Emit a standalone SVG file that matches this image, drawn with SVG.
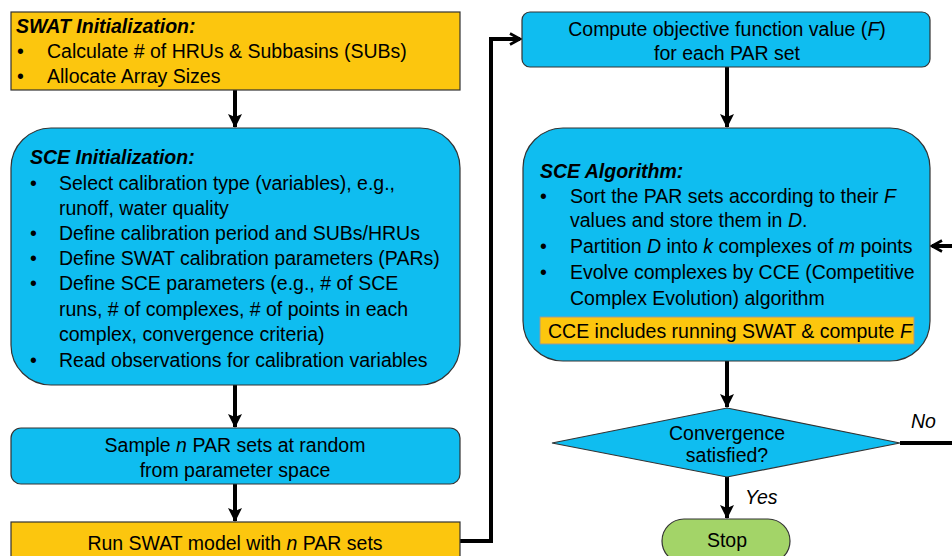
<svg xmlns="http://www.w3.org/2000/svg" width="952" height="556" viewBox="0 0 952 556">
<defs>
<style>
.y{fill:#FCC60E;stroke:#333;stroke-width:1.2}
.b{fill:#0FBDF0;stroke:#333;stroke-width:1.2}
.g{fill:#A3D468;stroke:#333;stroke-width:1.2}
text{font-family:"Liberation Sans",Arial,sans-serif;font-size:19.5px;fill:#000}
.h{font-weight:bold;font-style:italic}
.c{text-anchor:middle}
.i{font-style:italic}
.ln{fill:none;stroke:#000;stroke-width:4}
</style>
<marker id="ah" viewBox="0 0 14 14" refX="13" refY="7" markerWidth="14" markerHeight="14" markerUnits="userSpaceOnUse" orient="auto">
<path d="M0,0 L14,7 L0,14 L3,7 Z" fill="#000"/>
</marker>
<marker id="ah2" viewBox="0 0 14 14" refX="12" refY="7" markerWidth="14" markerHeight="14" markerUnits="userSpaceOnUse" orient="auto">
<path d="M2,1.5 L12,7 L2,12.5" fill="none" stroke="#000" stroke-width="2.6"/>
</marker>
</defs>
<g id="connectors">
<line class="ln" x1="235" y1="90" x2="235" y2="127" marker-end="url(#ah)"/>
<line class="ln" x1="235" y1="385" x2="235" y2="427" marker-end="url(#ah)"/>
<line class="ln" x1="235" y1="484" x2="235" y2="521" marker-end="url(#ah)"/>
<polyline class="ln" points="460,541 491,541 491,39 520,39" marker-end="url(#ah2)"/>
<line class="ln" x1="727" y1="67" x2="727" y2="127" marker-end="url(#ah)"/>
<line class="ln" x1="727" y1="361" x2="727" y2="407" marker-end="url(#ah)"/>
<line class="ln" x1="727" y1="477" x2="727" y2="518" marker-end="url(#ah)"/>
<line class="ln" x1="900" y1="443" x2="952" y2="443"/>
<line class="ln" x1="952" y1="246" x2="932" y2="246" marker-end="url(#ah2)"/>
<text class="i" x="911" y="428">No</text>
<text class="i" x="745" y="504">Yes</text>
</g>
<g id="swat-init">
<rect class="y" x="11" y="12" width="449" height="78"/>
<text class="h" x="16" y="33">SWAT Initialization:</text>
<text x="17" y="58">•</text><text x="47" y="58">Calculate # of HRUs &amp; Subbasins (SUBs)</text>
<text x="17" y="83">•</text><text x="47" y="83">Allocate Array Sizes</text>
</g>
<g id="sce-init">
<rect class="b" x="11" y="128" width="449" height="257" rx="40" ry="40"/>
<text class="h" x="30" y="164">SCE Initialization:</text>
<text x="30" y="190">•</text><text x="59" y="190">Select calibration type (variables), e.g.,</text>
<text x="59" y="215">runoff, water quality</text>
<text x="30" y="240">•</text><text x="59" y="240">Define calibration period and SUBs/HRUs</text>
<text x="30" y="265">•</text><text x="59" y="265">Define SWAT calibration parameters (PARs)</text>
<text x="30" y="290">•</text><text x="59" y="290">Define SCE parameters (e.g., # of SCE</text>
<text x="59" y="316">runs, # of complexes, # of points in each</text>
<text x="59" y="341">complex, convergence criteria)</text>
<text x="30" y="367">•</text><text x="59" y="367">Read observations for calibration variables</text>
</g>
<g id="sample">
<rect class="b" x="11" y="428" width="449" height="56" rx="10" ry="10"/>
<text class="c" x="235" y="452">Sample <tspan class="i">n</tspan> PAR sets at random</text>
<text class="c" x="235" y="477">from parameter space</text>
</g>
<g id="run-swat">
<rect class="y" x="11" y="522" width="449" height="50"/>
<text class="c" x="235" y="550">Run SWAT model with <tspan class="i">n</tspan> PAR sets</text>
</g>
<g id="compute">
<rect class="b" x="522" y="12" width="408" height="55" rx="8" ry="8"/>
<text class="c" x="727" y="36">Compute objective function value (<tspan class="i">F</tspan>)</text>
<text class="c" x="727" y="60">for each PAR set</text>
</g>
<g id="sce-algo">
<rect class="b" x="523" y="128" width="407" height="233" rx="40" ry="40"/>
<text class="h" x="540" y="178">SCE Algorithm:</text>
<text x="540" y="203">•</text><text x="570" y="203">Sort the PAR sets according to their <tspan class="i">F</tspan></text>
<text x="570" y="227">values and store them in <tspan class="i">D</tspan>.</text>
<text x="540" y="253">•</text><text x="570" y="253">Partition <tspan class="i">D</tspan> into <tspan class="i">k</tspan> complexes of <tspan class="i">m</tspan> points</text>
<text x="540" y="279">•</text><text x="570" y="279">Evolve complexes by CCE (Competitive</text>
<text x="570" y="305">Complex Evolution) algorithm</text>
<rect class="y" x="540" y="317" width="374" height="27" style="stroke:#999;stroke-width:1"/>
<text x="548" y="338">CCE includes running SWAT &amp; compute <tspan class="i">F</tspan></text>
</g>
<g id="convergence">
<polygon class="b" points="552,443 727,408 900,443 727,477"/>
<text class="c" x="727" y="440">Convergence</text>
<text class="c" x="727" y="462">satisfied?</text>
</g>
<g id="stop">
<rect class="g" x="662" y="519" width="128" height="44" rx="22" ry="22"/>
<text class="c" x="727" y="547">Stop</text>
</g>
</svg>
